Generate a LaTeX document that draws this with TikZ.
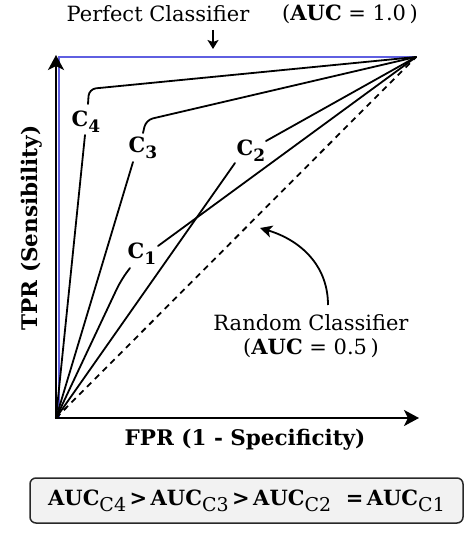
\documentclass[tikz,border=0pt]{standalone}
\usepackage{fontspec}
\setmainfont{DejaVu Serif}
\usetikzlibrary{arrows.meta}
\begin{document}
\begin{tikzpicture}[x=1pt,y=-1pt,
  curve/.style={line width=1.8pt, line cap=round, rounded corners=7pt},
  axis/.style={line width=2.8pt, -{Stealth[length=15pt,width=16pt,inset=4pt]}},
  clabel/.style={font=\fontsize{21}{21}\selectfont\bfseries, inner sep=0pt},
  txt/.style={font=\fontsize{21}{21}\selectfont, inner sep=0pt},
  perfect/.style={line width=2pt, draw={rgb,255:red,95;green,95;blue,225}}]
\useasboundingbox (0,0) rectangle (474,535);
\newcommand{\cl}[1]{C\raisebox{-0.28em}{\fontsize{17}{17}\selectfont #1}}
\newcommand{\sbt}[1]{\raisebox{-0.28em}{\fontsize{19}{19}\selectfont\mdseries C#1}}
\coordinate (O) at (56,418);
\coordinate (TR) at (416,57);
% perfect classifier
\draw[perfect] (58.5,418) -- (58.5,57) -- (TR);
% random classifier
\draw[line width=1.8pt, dash pattern=on 6pt off 5pt] (O) -- (TR);
% labels
\node[clabel] (c4) at (86,122) {\cl{4}};
\node[clabel] (c3) at (143,148) {\cl{3}};
\node[clabel] (c2) at (251,151) {\cl{2}};
\node[clabel] (c1) at (142,254) {\cl{1}};
% C4
\draw[curve] (O) -- (85,135);
\draw[curve] (88,104) -- (89,89) -- (TR);
% C3
\draw[curve] (O) -- (133,162);
\draw[curve] (143,133) -- (146,120) -- (TR);
% C2
\draw[curve] (O) -- (235,163);
\draw[curve] (266,141) -- (TR);
% C1
\draw[curve, rounded corners=10pt] (O) -- (121,280) -- (130,268);
\draw[curve] (158,246) -- (TR);
% axes
\draw[axis] (O) -- (56,55);
\draw[axis] ([xshift=-1.4pt]O) -- (419,418);
% texts
\node[txt] (pc) at (158,14) {Perfect Classifier};
\node[txt] (pa) at (350,14) {(\textbf{AUC} = 1.0\,)};
\coordinate (pt) at (213,49);
\draw[line width=1.6pt, -{Stealth[length=9pt,width=11pt,inset=2pt]}] (213,30) -- (pt);
\node[txt, align=center] (rc) at (311,336) {Random Classifier\\[3pt](\textbf{AUC} = 0.5\,)};
\coordinate (rs) at (328,305);
\coordinate (rt) at (260,228);
\draw[line width=1.8pt, -{Stealth[length=12pt,width=12pt,inset=3pt]}] (rs) .. controls (328,265) and (300,240) .. (rt);
\node[txt, font=\fontsize{21.5}{21.5}\selectfont\bfseries] (fpr) at (245,440) {FPR (1 - Specificity)};
\node[txt, font=\fontsize{21.5}{21.5}\selectfont\bfseries, rotate=90] (tpr) at (32,228) {TPR (Sensibility)};
\node[draw={rgb,255:red,40;green,40;blue,40}, line width=1.5pt, fill={rgb,255:red,242;green,242;blue,242}, rounded corners=6pt, minimum width=433pt, minimum height=45pt, inner sep=0pt, font=\fontsize{21}{21}\selectfont\bfseries] (box) at (246.5,500.5)
  {AUC\sbt{4}\,>\,AUC\sbt{3}\,>\,AUC\sbt{2}\ \ =\,AUC\sbt{1}};
\end{tikzpicture}
\end{document}
